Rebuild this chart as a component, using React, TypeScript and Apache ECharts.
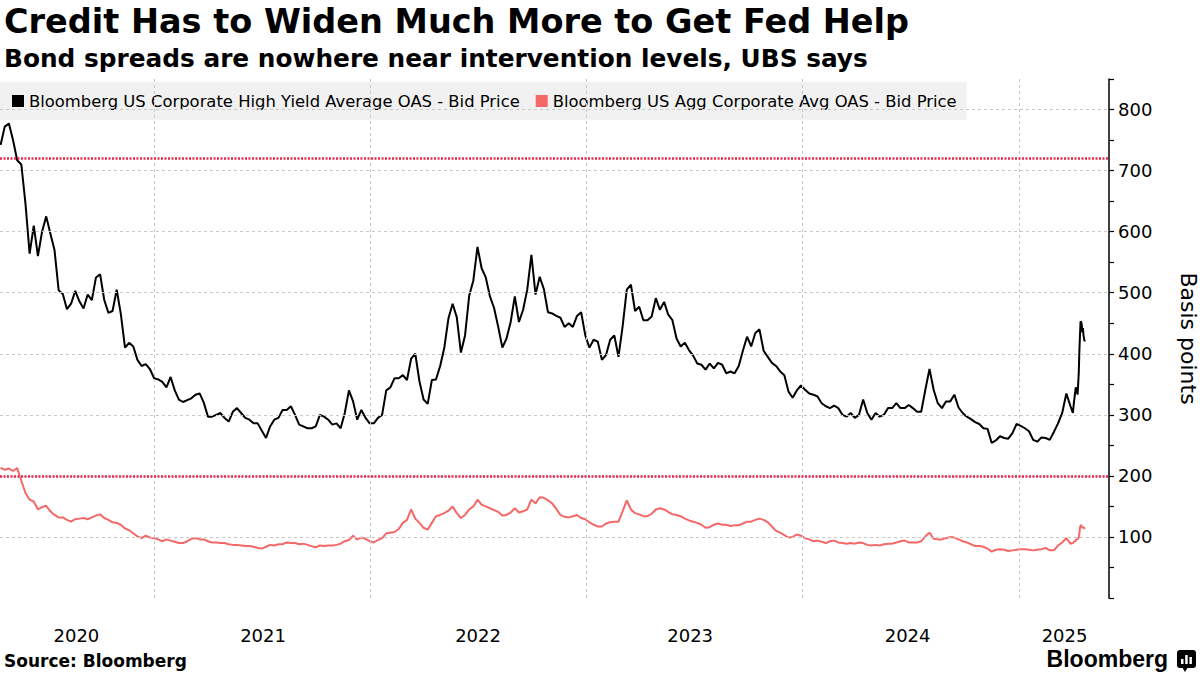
import React, { useEffect, useRef } from 'react';
import * as echarts from 'echarts';

const TITLE = 'Credit Has to Widen Much More to Get Fed Help';
const SUBTITLE = 'Bond spreads are nowhere near intervention levels, UBS says';
const SERIES_NAMES = [
  'Bloomberg US Corporate High Yield Average OAS - Bid Price',
  'Bloomberg US Agg Corporate Avg OAS - Bid Price',
];

// Weekly observations starting at this date (one value every 7 days)
const FIRST_WEEK = '2020-04-17';

const HY_WEEKLY = [
  742, 772, 777, 750, 717, 710, 646, 564, 610, 560, 600, 625, 597, 570, 504, 498, 473, 482, 503, 486,
  474, 497, 488, 525, 530, 488, 467, 470, 505, 465, 410, 418, 412, 390, 380, 383, 375, 360, 358, 354,
  345, 362, 340, 325, 321, 324, 327, 333, 335,
  320, 297, 297, 300, 303, 295, 289, 305, 311, 303, 295, 292, 286, 286, 274, 262, 281, 292, 295, 308,
  308, 314, 300, 284, 281, 278, 278, 281, 300, 297, 292, 284, 286, 278, 303, 340, 322, 292, 308, 295,
  286, 286, 295,
  300, 340, 345, 360, 360, 365, 357, 392, 400, 355, 325, 318, 357, 358, 380, 410, 458, 482, 460, 402,
  430, 495, 520, 575, 540, 525, 494, 475, 444, 410, 425, 452, 494, 452, 472, 505, 562, 497, 526, 506,
  468, 466, 462, 459, 444,
  450, 444, 462, 468, 430, 410, 423, 420, 390, 398, 423, 430, 395, 445, 505, 513, 470, 477, 455, 455,
  461, 491, 472, 485, 464, 455, 425, 412, 418, 406, 397, 384, 382, 374, 384, 376, 385, 382, 368, 371,
  368, 380, 405, 428, 412, 434,
  440, 405, 395, 385, 380, 371, 365, 338, 328, 340, 348, 341, 335, 333, 330, 319, 314, 311, 315, 311,
  300, 297, 303, 295, 300, 325, 303, 292, 303, 297, 300, 311, 311, 319, 311, 311, 316, 311, 305, 305,
  341, 375, 341, 319, 311, 322,
  322, 333, 312, 303, 297, 293, 288, 285, 278, 277, 254, 258, 265, 262, 261, 270, 285, 282, 278, 273,
  259, 256, 263, 262, 259, 272, 286, 303, 335, 314,
];

const IG_WEEKLY = [
  213, 210, 212, 208, 213, 192, 172, 161, 158, 145, 149, 151, 142, 136, 132, 132, 128, 125, 129, 130,
  131, 129, 132, 135, 137, 131, 128, 124, 123, 120, 114, 111, 106, 101, 98, 102, 99, 98, 96, 93,
  96, 94, 92, 90, 90, 93, 97, 98, 96,
  96, 93, 91, 91, 90, 90, 88, 87, 87, 86, 85, 85, 84, 82, 81, 84, 87, 86, 88, 88,
  91, 90, 90, 88, 89, 87, 85, 83, 86, 85, 86, 86, 87, 89, 93, 95, 102, 96, 99, 97,
  93, 91, 95,
  98, 106, 107, 108, 113, 123, 128, 145, 130, 123, 115, 112, 123, 134, 136, 139, 143, 150, 139, 131,
  136, 145, 150, 161, 153, 150, 147, 144, 141, 135, 136, 140, 147, 140, 142, 145, 161, 155, 165, 164,
  160, 155, 146, 136, 133,
  132, 134, 136, 131, 129, 124, 120, 117, 117, 122, 124, 125, 125, 142, 160, 145, 139, 137, 134, 134,
  138, 145, 147, 145, 141, 137, 136, 134, 130, 127, 125, 123, 120, 115, 116, 120, 122, 120, 120, 118,
  119, 119, 122, 125, 125, 128,
  130, 128, 124, 117, 110, 107, 103, 99, 100, 104, 102, 98, 96, 93, 94, 92, 90, 93, 94, 91,
  90, 89, 90, 89, 91, 90, 87, 86, 87, 86, 88, 89, 89, 91, 93, 94, 91, 91, 91, 93,
  101, 107, 97, 96, 96, 98,
  100, 99, 96, 93, 91, 88, 85, 85, 84, 81, 76, 79, 80, 79, 77, 78, 79, 80, 80, 79,
  78, 79, 80, 82, 78, 78, 86, 91, 98, 89,
];

// Daily detail for the April 2025 spike
const TAIL_DATES = [
  '2025-04-01', '2025-04-03', '2025-04-05', '2025-04-06', '2025-04-08', '2025-04-09', '2025-04-11',
  '2025-04-12', '2025-04-13', '2025-04-14', '2025-04-15', '2025-04-16', '2025-04-17', '2025-04-18',
  '2025-04-19', '2025-04-20', '2025-04-21',
];
const HY_TAIL = [303, 322, 338, 345, 338, 333, 370, 405, 430, 453, 452, 448, 435, 442, 430, 424, 420];
const IG_TAIL = [90, 92, 93, 95, 96, 97, 99, 106, 115, 118, 120, 116, 115, 116, 116, 115, 113];

const Y_GRID = [100, 200, 300, 400, 500, 600, 700, 800];
const FED_LEVELS = [720, 200];
const YEAR_STARTS = ['2021-01-01', '2022-01-01', '2023-01-01', '2024-01-01', '2025-01-01'];
const YEAR_LABEL_DATES = ['2020-08-23', '2021-07-04', '2022-07-02', '2023-06-25', '2024-06-26', '2025-03-18'];
const X_MIN = '2020-04-16';
const X_MAX = '2025-06-01';

const DAY = 86400000;
const ts = (s: string) => Date.parse(s + 'T00:00:00Z');
const FONT = '"DejaVu Sans", sans-serif';

function buildSeries(weekly: number[], tail: number[]) {
  const start = ts(FIRST_WEEK);
  const out: [number, number][] = weekly.map((v, i) => [start + i * 7 * DAY, v]);
  TAIL_DATES.forEach((d, i) => out.push([ts(d), tail[i]]));
  return out;
}

export default function App() {
  const ref = useRef<HTMLDivElement>(null);

  useEffect(() => {
    if (!ref.current) return;
    const chart = echarts.init(ref.current, undefined, { renderer: 'svg' });
    const hy = buildSeries(HY_WEEKLY, HY_TAIL);
    const ig = buildSeries(IG_WEEKLY, IG_TAIL);
    const gridStyle = { color: '#c8c8c8', type: [3, 3] as any, width: 1 };
    const fedStyle = { color: '#e8294f', type: [2, 1.5] as any, width: 2.5 };

    chart.setOption({
      animation: false,
      backgroundColor: '#ffffff',
      title: [
        {
          text: TITLE,
          left: 4,
          top: 4,
          padding: 0,
          textStyle: { fontFamily: FONT, fontWeight: 'bold', fontSize: 33.5, color: '#000' },
        },
        {
          text: SUBTITLE,
          left: 4,
          top: 46,
          padding: 0,
          textStyle: { fontFamily: FONT, fontWeight: 'bold', fontSize: 24.8, color: '#000' },
        },
      ],
      legend: {
        data: SERIES_NAMES,
        left: 0,
        top: 82,
        icon: 'rect',
        itemWidth: 12,
        itemHeight: 12,
        itemGap: 16,
        padding: [11, 10, 11, 12],
        backgroundColor: 'rgba(0,0,0,0.055)',
        selectedMode: false,
        textStyle: { fontFamily: FONT, fontSize: 16.4, color: '#000' },
      },
      grid: { left: 0, right: 91, top: 79, bottom: 77, containLabel: false, outerBoundsMode: 'none' },
      xAxis: {
        type: 'value',
        min: ts(X_MIN),
        max: ts(X_MAX),
        axisLine: { show: false },
        axisTick: { show: false },
        splitLine: { show: false },
        axisLabel: {
          customValues: YEAR_LABEL_DATES.map(ts),
          formatter: (v: number) => String(new Date(v).getUTCFullYear()),
          fontFamily: FONT,
          fontSize: 18,
          color: '#000',
          margin: 28,
        },
      },
      yAxis: {
        type: 'value',
        position: 'right',
        min: 0,
        max: 850,
        interval: 50,
        axisLine: { show: true, lineStyle: { color: '#000', width: 1.5 } },
        axisTick: { show: true, length: 5, lineStyle: { color: '#000', width: 1.2 } },
        splitLine: { show: false },
        axisLabel: {
          formatter: (v: number) => (v % 100 === 0 && v > 0 && v < 850 ? String(v) : ''),
          fontFamily: FONT,
          fontSize: 18,
          color: '#000',
          margin: 9,
        },
        name: 'Basis points',
        nameLocation: 'middle',
        nameRotate: -90,
        nameGap: 68,
        nameTextStyle: { fontFamily: FONT, fontSize: 22, color: '#000' },
      },
      series: [
        {
          name: 'gridlines',
          type: 'line',
          data: hy,
          showSymbol: false,
          symbol: 'none',
          silent: true,
          lineStyle: { opacity: 0 },
          z: 1,
          markLine: {
            silent: true,
            symbol: ['none', 'none'],
            label: { show: false },
            animation: false,
            data: [
              ...Y_GRID.map((v) => ({ yAxis: v, lineStyle: gridStyle })),
              ...YEAR_STARTS.map((d) => ({ xAxis: ts(d), lineStyle: gridStyle })),
              ...FED_LEVELS.map((v) => ({ yAxis: v, lineStyle: fedStyle })),
            ],
          },
        },
        {
          name: SERIES_NAMES[0],
          type: 'line',
          data: hy,
          showSymbol: false,
          symbol: 'none',
          color: '#000000',
          lineStyle: { color: '#000000', width: 2 },
          z: 3,
        },
        {
          name: SERIES_NAMES[1],
          type: 'line',
          data: ig,
          showSymbol: false,
          symbol: 'none',
          color: '#f56868',
          lineStyle: { color: '#f56868', width: 2 },
          z: 2,
        },
      ],
      graphic: [
        {
          type: 'text',
          left: 4,
          top: 652,
          style: { text: 'Source: Bloomberg', fontFamily: FONT, fontWeight: 'bold', fontSize: 17, fill: '#000' },
        },
        {
          type: 'text',
          right: 32,
          top: 647,
          style: { text: 'Bloomberg', fontFamily: '"Liberation Sans", sans-serif', fontWeight: 'bold', fontSize: 23, fill: '#000' },
        },
        {
          type: 'group',
          right: 4,
          top: 650,
          children: [
            { type: 'rect', shape: { x: 0, y: 0, width: 19, height: 18, r: 3 }, style: { fill: '#000' } },
            { type: 'polygon', shape: { points: [[5, 17], [11, 17], [8, 22]] }, style: { fill: '#000' } },
            { type: 'rect', shape: { x: 4, y: 9, width: 2.5, height: 5 }, style: { fill: '#fff' } },
            { type: 'rect', shape: { x: 8.2, y: 5, width: 2.5, height: 9 }, style: { fill: '#fff' } },
            { type: 'rect', shape: { x: 12.4, y: 7, width: 2.5, height: 7 }, style: { fill: '#fff' } },
          ],
        },
      ],
    });
    return () => chart.dispose();
  }, []);

  return (
    <div
      ref={ref}
      style={{ position: 'absolute', left: 0, top: 0, width: 1200, height: 675, background: '#fff' }}
    />
  );
}
